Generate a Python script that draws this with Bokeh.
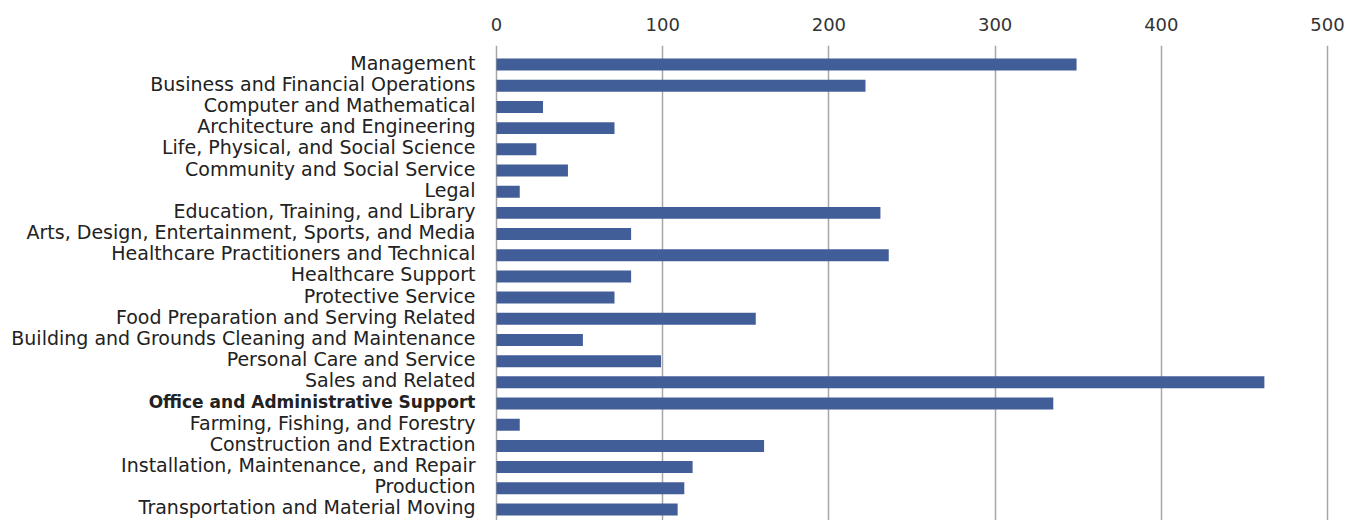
from bokeh.plotting import figure
from bokeh.models import ColumnDataSource, Range1d, FixedTicker
from bokeh.core.properties import value
from bokeh.embed import file_html
from bokeh.resources import INLINE

categories = [
    "Management",
    "Business and Financial Operations",
    "Computer and Mathematical",
    "Architecture and Engineering",
    "Life, Physical, and Social Science",
    "Community and Social Service",
    "Legal",
    "Education, Training, and Library",
    "Arts, Design, Entertainment, Sports, and Media",
    "Healthcare Practitioners and Technical",
    "Healthcare Support",
    "Protective Service",
    "Food Preparation and Serving Related",
    "Building and Grounds Cleaning and Maintenance",
    "Personal Care and Service",
    "Sales and Related",
    "Office and Administrative Support",
    "Farming, Fishing, and Forestry",
    "Construction and Extraction",
    "Installation, Maintenance, and Repair",
    "Production",
    "Transportation and Material Moving",
]
values = [349, 222, 28, 71, 24, 43, 14, 231, 81, 236, 81, 71, 156, 52, 99, 462,
          335, 14, 161, 118, 113, 109]
highlighted = ["Office and Administrative Support"]
x_ticks = [0, 100, 200, 300, 400, 500]

FONT = "DejaVu Sans"
BAR = "#425e98"

idx = list(range(len(categories)))
styles = ["bold" if c in highlighted else "normal" for c in categories]
sizes = ["17px" if c in highlighted else "19px" for c in categories]
src = ColumnDataSource(dict(y=idx, v=values, cat=categories, style=styles,
                            size=sizes, zero=[0] * len(categories)))

p = figure(width=1345, height=520, output_backend="svg", toolbar_location=None,
           x_range=Range1d(-298.4, 510.8), y_range=Range1d(21.52, -0.9),
           x_axis_location="above", y_axis_location=None,
           min_border_left=0, min_border_right=0, min_border_bottom=0,
           min_border_top=45)
p.outline_line_color = None
p.background_fill_color = "white"
p.border_fill_color = "white"

p.hbar(y="y", left=0, right="v", height=0.566, source=src,
       fill_color=BAR, line_color=None)

p.text(x="zero", y="y", text="cat", source=src, x_offset=-21, y_offset=-2,
       text_align="right", text_baseline="middle",
       text_font=value(FONT), text_font_size="size",
       text_font_style="style", text_color="#222222")

ax = p.xaxis[0]
ax.ticker = FixedTicker(ticks=x_ticks)
ax.axis_line_color = None
ax.major_tick_line_color = None
ax.minor_tick_line_color = None
ax.major_tick_out = 0
ax.major_tick_in = 0
ax.major_label_standoff = 15
ax.major_label_text_font = FONT
ax.major_label_text_font_size = "18px"
ax.major_label_text_color = "#333333"

p.xgrid.ticker = FixedTicker(ticks=x_ticks)
p.xgrid.grid_line_color = "#a6a6a6"
p.xgrid.grid_line_width = 1.5
p.ygrid.grid_line_color = None

open("out.html", "w").write(file_html(p, INLINE))
